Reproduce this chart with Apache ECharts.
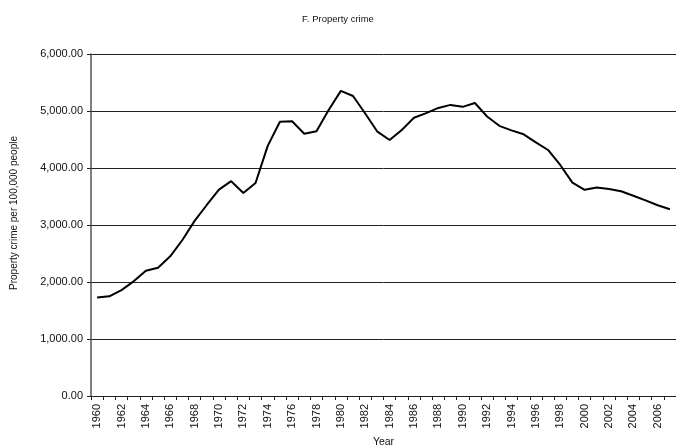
<!DOCTYPE html>
<html>
<head>
<meta charset="utf-8">
<script src="https://cdn.jsdelivr.net/npm/echarts@6/dist/echarts.min.js"></script>
<style>html,body{margin:0;padding:0;background:#fff;}#c{width:676px;height:448px;}</style>
</head>
<body>
<div id="c"></div>
<script>
const years = [];
for (let y = 1960; y <= 2007; y++) years.push(String(y));
const propertyCrime = [
  1726, 1748, 1858, 2012, 2198, 2249, 2451, 2737, 3072, 3351,
  3621, 3769, 3560, 3737, 4389, 4811, 4820, 4602, 4643, 5017,
  5353, 5264, 4956, 4637, 4492, 4666, 4882, 4963, 5054, 5107,
  5073, 5140, 4904, 4740, 4660, 4591, 4451, 4316, 4053, 3744,
  3618, 3658, 3631, 3591, 3514, 3432, 3347, 3276
];
const yTicks = [0, 1000, 2000, 3000, 4000, 5000, 6000];

const chart = echarts.init(document.getElementById('c'));
const font = 'Liberation Sans, Arial, sans-serif';
chart.setOption({
  animation: false,
  backgroundColor: '#fff',
  title: {
    text: 'F. Property crime', left: 'center', top: 9,
    textStyle: { fontSize: 9.5, fontWeight: 'normal', color: '#111', fontFamily: font }
  },
  grid: { left: 91, right: 0, top: 54, bottom: 52, containLabel: false, outerBoundsMode: 'none' },
  xAxis: {
    type: 'category', data: years, boundaryGap: true,
    name: 'Year', nameLocation: 'middle', nameGap: 41,
    nameTextStyle: { fontSize: 10.5, color: '#111', fontFamily: font },
    axisLine: { lineStyle: { color: '#222', width: 1 } },
    axisTick: { show: true, interval: 0, length: 4, lineStyle: { color: '#222' } },
    axisLabel: { interval: 1, rotate: 90, fontSize: 11, color: '#111', fontFamily: font, margin: 8 }
  },
  yAxis: {
    type: 'value', min: yTicks[0], max: yTicks[yTicks.length - 1], interval: 1000,
    name: 'Property crime per 100,000 people', nameLocation: 'middle', nameGap: 72,
    nameTextStyle: { fontSize: 10, color: '#111', fontFamily: font, padding: [0, 0, 0, 24] },
    axisLine: { show: true, lineStyle: { color: '#555', width: 1.5 } },
    axisTick: { show: true, length: 4, lineStyle: { color: '#222' } },
    axisLabel: {
      fontSize: 11, color: '#111', fontFamily: font, margin: 8,
      formatter: v => v.toLocaleString('en-US', { minimumFractionDigits: 2, maximumFractionDigits: 2 })
    },
    splitLine: { show: true, lineStyle: { color: '#222', width: 1 } }
  },
  series: [{
    type: 'line', data: propertyCrime, showSymbol: false, smooth: false,
    lineStyle: { color: '#000', width: 2 }
  }]
});
</script>
</body>
</html>
